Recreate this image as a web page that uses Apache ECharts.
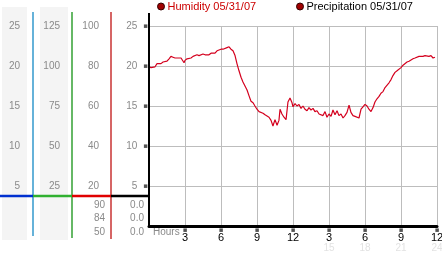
<!DOCTYPE html>
<html><head><meta charset="utf-8">
<script src="https://cdn.jsdelivr.net/npm/echarts@6/dist/echarts.min.js"></script>
<style>html,body{margin:0;padding:0;background:#fff}#c{width:442px;height:253px}</style>
</head><body><div id="c"></div>
<script>
// ---- data ----
const hours = [0.00,0.17,0.33,0.50,0.67,0.83,1.00,1.17,1.33,1.50,1.67,1.83,2.00,2.17,2.33,2.67,2.83,2.92,3.00,3.17,3.33,3.50,3.67,3.83,4.00,4.17,4.33,4.50,4.67,4.83,5.00,5.17,5.33,5.50,5.67,5.83,6.00,6.17,6.33,6.50,6.67,6.83,7.00,7.17,7.33,7.50,7.67,7.83,8.00,8.17,8.33,8.50,8.67,8.83,9.00,9.17,9.33,9.50,9.67,9.83,10.00,10.17,10.33,10.50,10.67,10.83,10.92,11.08,11.25,11.42,11.58,11.75,11.92,12.00,12.17,12.33,12.50,12.67,12.83,13.00,13.17,13.33,13.50,13.67,13.83,14.00,14.17,14.33,14.50,14.67,14.83,15.00,15.17,15.33,15.50,15.67,15.83,16.00,16.17,16.33,16.50,16.67,16.83,17.00,17.17,17.33,17.50,17.67,17.83,18.00,18.17,18.33,18.50,18.67,18.83,19.00,19.17,19.33,19.50,19.67,19.83,20.00,20.17,20.33,20.50,20.67,20.83,21.00,21.17,21.33,21.50,21.67,21.83,22.00,22.17,22.33,22.50,22.83,23.00,23.33,23.50,23.67,23.83];
const humidity = [19.9,19.8,20.0,19.9,20.3,20.4,20.3,20.5,20.7,20.6,20.9,21.2,21.1,21.0,21.0,21.0,20.9,20.4,20.7,20.9,20.8,21.0,21.2,21.1,21.4,21.3,21.2,21.5,21.4,21.6,21.4,21.6,21.5,21.6,21.9,22.0,22.1,22.1,22.2,22.3,22.4,22.1,21.9,21.3,20.3,19.4,18.6,18.0,17.5,17.0,16.3,15.6,15.4,15.0,14.6,14.3,14.5,14.1,13.9,14.0,13.6,13.2,12.5,13.3,12.6,13.2,14.6,14.0,13.6,13.3,15.5,16.0,15.4,14.9,15.3,15.0,15.2,14.7,15.0,14.6,14.4,14.8,14.5,14.7,14.3,14.4,14.0,14.2,13.8,14.3,13.6,14.0,13.7,14.5,13.9,14.4,13.8,14.0,13.5,13.8,14.2,15.1,14.2,13.8,13.7,13.7,13.5,14.6,14.9,15.2,15.0,14.6,14.3,14.8,15.5,15.9,16.2,16.6,16.8,17.3,17.5,17.9,18.3,18.8,19.2,19.4,19.5,19.8,20.1,20.2,20.5,20.6,20.8,20.9,21.0,21.1,21.2,21.2,21.3,21.2,21.3,21.0,21.1];
const precipitation = [];
const xTickLabels = ['', '3', '6', '9', '12', '3', '6', '9', '12'];
const xTickFaint = ['', '', '', '', '', '15', '18', '21', '24'];
const col1Labels = ['', '5', '10', '15', '20', '25'];
const col2Labels = ['', '25', '50', '75', '100', '125'];
const col3Labels = ['', '20', '40', '60', '80', '100'];
const col4Labels = ['', '5', '10', '15', '20', '25'];
const col3Extra = ['90', '84', '50'];
const col4Extra = ['0.0', '0.0', '0.0'];
const legendNames = ['Humidity 05/31/07', 'Precipitation 05/31/07'];

const FONT = 'Liberation Sans';
const GRAY = '#8a8a8a';
const MARK = '\u25AA';

function sideAxis(labels, offset, margin, main) {
  return {
    type: 'value', gridIndex: 0, position: 'left', offset: offset,
    min: 0, max: 25, interval: 5,
    axisLine: main ? {show: true, lineStyle: {color: '#000', width: 2}} : {show: false},
    axisTick: {show: false},
    splitLine: main ? {show: true, lineStyle: {color: '#bdbdbd', width: 1}} : {show: false},
    axisLabel: {
      show: true, margin: margin, fontFamily: FONT, fontSize: 10, color: GRAY,
      formatter: main
        ? (v) => v === 0 ? '' : '{n|' + labels[Math.round(v / 5)] + '}{s| }{m|' + MARK + '}'
        : (v) => labels[Math.round(v / 5)],
      rich: {
        n: {fontFamily: FONT, fontSize: 10, color: GRAY},
        s: {width: 6, fontSize: 10},
        m: {fontFamily: 'DejaVu Sans', fontSize: 7, color: '#555'}
      }
    }
  };
}

const graphics = [
  {type: 'rect', shape: {x: 2, y: 7, width: 25, height: 233}, style: {fill: '#f4f4f4'}, z: -10},
  {type: 'rect', shape: {x: 40, y: 7, width: 28, height: 233}, style: {fill: '#f4f4f4'}, z: -10},
  {type: 'line', shape: {x1: 33, y1: 12, x2: 33, y2: 236}, style: {stroke: '#3399cc', lineWidth: 1.5}},
  {type: 'line', shape: {x1: 72, y1: 12, x2: 72, y2: 238}, style: {stroke: '#33a033', lineWidth: 1.5}},
  {type: 'line', shape: {x1: 111, y1: 12, x2: 111, y2: 239}, style: {stroke: '#c83232', lineWidth: 1.5}},
  {type: 'line', shape: {x1: 0, y1: 196, x2: 33, y2: 196}, style: {stroke: '#0030d0', lineWidth: 2.5}},
  {type: 'line', shape: {x1: 33, y1: 196, x2: 72, y2: 196}, style: {stroke: '#30b030', lineWidth: 2.5}},
  {type: 'line', shape: {x1: 72, y1: 196, x2: 111, y2: 196}, style: {stroke: '#e00000', lineWidth: 2.5}},
  {type: 'line', shape: {x1: 111, y1: 196, x2: 149, y2: 196}, style: {stroke: '#000', lineWidth: 2.5}},
  {type: 'line', shape: {x1: 149, y1: 13, x2: 149, y2: 227}, style: {stroke: '#000', lineWidth: 2}, z: 20},
  {type: 'text', left: 153, top: 227, style: {text: 'Hours', fill: GRAY, font: '10px ' + FONT}}
];
col3Extra.forEach((t, i) => graphics.push({type: 'text', style: {text: t, x: 105, y: 205 + i * 13.5, align: 'right', verticalAlign: 'middle', fill: GRAY, font: '10px ' + FONT}}));
col4Extra.forEach((t, i) => graphics.push({type: 'text', style: {text: t, x: 144, y: 205 + i * 13.5, align: 'right', verticalAlign: 'middle', fill: GRAY, font: '10px ' + FONT}}));

const chart = echarts.init(document.getElementById('c'), null, {renderer: 'canvas'});
chart.setOption({
  animation: false,
  backgroundColor: '#fff',
  textStyle: {fontFamily: FONT},
  legend: [
    {left: 157, top: 1, itemWidth: 7, itemHeight: 7, itemGap: 0, padding: 0,
     data: [{name: legendNames[0], icon: 'circle', itemStyle: {color: '#a00000', borderColor: '#300', borderWidth: 1}, textStyle: {color: '#cc0000', fontSize: 11, fontFamily: FONT}}],
     textStyle: {padding: [0, 0, 0, -2]}},
    {left: 296, top: 1, itemWidth: 7, itemHeight: 7, itemGap: 0, padding: 0,
     data: [{name: legendNames[1], icon: 'circle', itemStyle: {color: '#a00000', borderColor: '#300', borderWidth: 1}, textStyle: {color: '#000', fontSize: 11, fontFamily: FONT}}],
     textStyle: {padding: [0, 0, 0, -2]}}
  ],
  grid: {left: 149, top: 26, width: 288, height: 200, containLabel: false, outerBoundsMode: 'none'},
  xAxis: {
    type: 'value', min: 0, max: 24, interval: 3,
    axisLine: {show: true, lineStyle: {color: '#000', width: 3}},
    axisTick: {show: false},
    splitLine: {show: true, lineStyle: {color: '#bdbdbd', width: 1}},
    axisLabel: {
      margin: 1, showMinLabel: true, showMaxLabel: true,
      formatter: (v) => {
        const i = Math.round(v / 3);
        if (!xTickLabels[i]) return '';
        return '{m|' + MARK + '}\n{n|' + xTickLabels[i] + '}\n{f|' + (xTickFaint[i] || ' ') + '}';
      },
      rich: {
        m: {fontFamily: 'DejaVu Sans', fontSize: 7, lineHeight: 6, color: '#555'},
        n: {fontSize: 11, lineHeight: 10, color: '#000', fontFamily: FONT},
        f: {fontSize: 10, lineHeight: 11, color: '#e2e2e2', fontFamily: FONT}
      }
    }
  },
  yAxis: [
    sideAxis(col4Labels, 0, 1, true),
    sideAxis(col3Labels, 38, 12, false),
    sideAxis(col2Labels, 77, 12, false),
    sideAxis(col1Labels, 116, 13, false)
  ],
  series: [
    {name: legendNames[0], type: 'line', showSymbol: false, symbol: 'none', color: '#a00000',
     data: hours.map((h, i) => [h, humidity[i]]),
     lineStyle: {color: '#d4001e', width: 1.2}},
    {name: legendNames[1], type: 'line', showSymbol: false, symbol: 'none', color: '#a00000', data: precipitation}
  ],
  graphic: graphics
});
</script></body></html>
